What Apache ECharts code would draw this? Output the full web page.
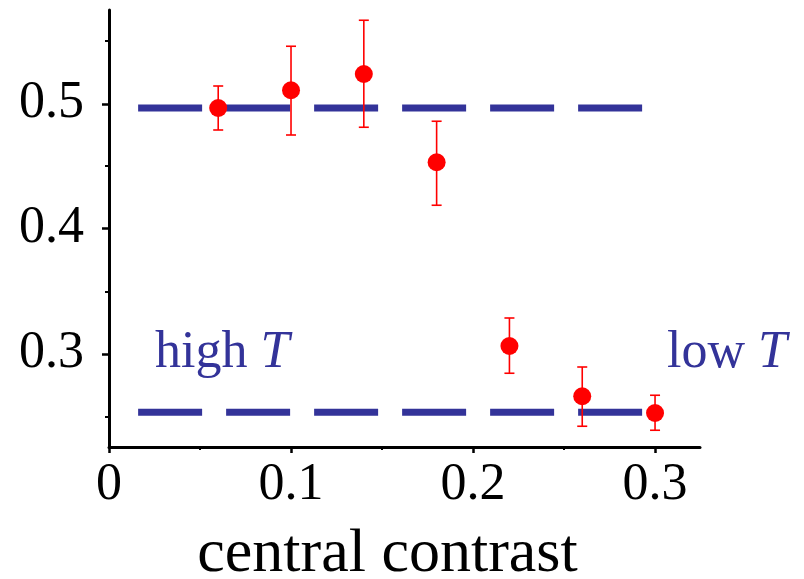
<!DOCTYPE html>
<html>
<head>
<meta charset="utf-8">
<script src="https://cdn.jsdelivr.net/npm/echarts@6/dist/echarts.min.js"></script>
<style>html,body{margin:0;padding:0;background:#fff}#c{width:804px;height:579px}</style>
</head>
<body>
<div id="c"></div>
<script>
// data
const contrast = [0.06, 0.10, 0.14, 0.18, 0.22, 0.26, 0.30];
const meanT = [0.4966, 0.5108, 0.5238, 0.4532, 0.3062, 0.2660, 0.2526];
const errLow = [0.4790, 0.4750, 0.4812, 0.4188, 0.2844, 0.2420, 0.2388];
const errHigh = [0.5142, 0.5460, 0.5668, 0.4860, 0.3286, 0.2894, 0.2668];
const highLevel = 0.4966;
const lowLevel = 0.2532;
const levelRange = [0.016, 0.2929];
const xMajorTicks = [0, 0.1, 0.2, 0.3];
const xMinorTicks = [0.05, 0.15, 0.25];
const yMajorTicks = [0.3, 0.4, 0.5];
const yMinorTicks = [0.25, 0.35, 0.45, 0.55];

const blue = '#333399';
const font = '"Liberation Serif", "DejaVu Serif", serif';
const fmt = v => (Math.abs(v) < 1e-9 ? '0' : v.toFixed(1));

const chart = echarts.init(document.getElementById('c'), null, {renderer: 'canvas'});
const xMin = 0, xMax = 0.3247, yMin = 0.2254, yMax = 0.5750;

chart.setOption({
  animation: false,
  backgroundColor: '#fff',
  grid: {left: 109, right: 104, top: 10, bottom: 132, containLabel: false, outerBoundsMode: 'none'},
  xAxis: [{
    type: 'value', min: xMin, max: xMax,
    axisLine: {lineStyle: {color: '#000', width: 3}},
    axisTick: {customValues: xMajorTicks, length: 6, lineStyle: {color: '#000', width: 2.5}},
    axisLabel: {customValues: xMajorTicks, formatter: fmt, color: '#000', fontFamily: font, fontSize: 52, margin: 12},
    splitLine: {show: false},
    name: 'central contrast', nameLocation: 'middle', nameGap: 77,
    nameTextStyle: {color: '#000', fontFamily: font, fontSize: 62, padding: [0, 34, 0, 0]}
  }, {
    type: 'value', min: xMin, max: xMax, position: 'bottom',
    axisLine: {show: false},
    axisTick: {customValues: xMinorTicks, length: 3, lineStyle: {color: '#000', width: 2}},
    axisLabel: {show: false}, splitLine: {show: false}
  }],
  yAxis: [{
    type: 'value', min: yMin, max: yMax,
    axisLine: {show: true, lineStyle: {color: '#000', width: 3}},
    axisTick: {show: true, customValues: yMajorTicks, length: 7, lineStyle: {color: '#000', width: 2.5}},
    axisLabel: {customValues: yMajorTicks, formatter: fmt, color: '#000', fontFamily: font, fontSize: 52, margin: 25},
    splitLine: {show: false}
  }, {
    type: 'value', min: yMin, max: yMax, position: 'left',
    axisLine: {show: false},
    axisTick: {show: true, customValues: yMinorTicks, length: 4, lineStyle: {color: '#000', width: 2}},
    axisLabel: {show: false}, splitLine: {show: false}
  }],
  series: [
    {
      type: 'line', xAxisIndex: 0, yAxisIndex: 0, symbol: 'none', silent: true, z: 1,
      data: [[levelRange[0], highLevel], [levelRange[1], highLevel]],
      lineStyle: {color: blue, width: 7, type: [64, 24], cap: 'butt'}
    },
    {
      type: 'line', xAxisIndex: 0, yAxisIndex: 0, symbol: 'none', silent: true, z: 1,
      data: [[levelRange[0], lowLevel], [levelRange[1], lowLevel]],
      lineStyle: {color: blue, width: 7, type: [64, 24], cap: 'butt'}
    },
    {
      type: 'custom', xAxisIndex: 0, yAxisIndex: 0, z: 3,
      data: contrast.map((x, i) => [x, errLow[i], errHigh[i]]),
      renderItem: function (params, api) {
        const lo = api.coord([api.value(0), api.value(1)]);
        const hi = api.coord([api.value(0), api.value(2)]);
        const w = 5;
        const st = {stroke: '#ff0000', lineWidth: 1.6};
        return {type: 'group', children: [
          {type: 'line', shape: {x1: lo[0], y1: lo[1], x2: hi[0], y2: hi[1]}, style: st},
          {type: 'line', shape: {x1: lo[0] - w, y1: lo[1], x2: lo[0] + w, y2: lo[1]}, style: st},
          {type: 'line', shape: {x1: hi[0] - w, y1: hi[1], x2: hi[0] + w, y2: hi[1]}, style: st}
        ]};
      }
    },
    {
      type: 'scatter', xAxisIndex: 0, yAxisIndex: 0, z: 4,
      symbol: 'circle', symbolSize: 18,
      itemStyle: {color: '#ff0000', opacity: 1},
      data: contrast.map((x, i) => [x, meanT[i]])
    }
  ],
  graphic: [
    {
      type: 'text', left: 155, top: 327,
      style: {
        text: '{a|high }{b|T}',
        rich: {
          a: {fontFamily: font, fontSize: 52, fill: blue},
          b: {fontFamily: font, fontSize: 52, fontStyle: 'italic', fill: blue}
        }
      }
    },
    {
      type: 'text', left: 667, top: 327,
      style: {
        text: '{a|low }{b|T}',
        rich: {
          a: {fontFamily: font, fontSize: 52, fill: blue},
          b: {fontFamily: font, fontSize: 52, fontStyle: 'italic', fill: blue}
        }
      }
    }
  ]
});
</script>
</body>
</html>
